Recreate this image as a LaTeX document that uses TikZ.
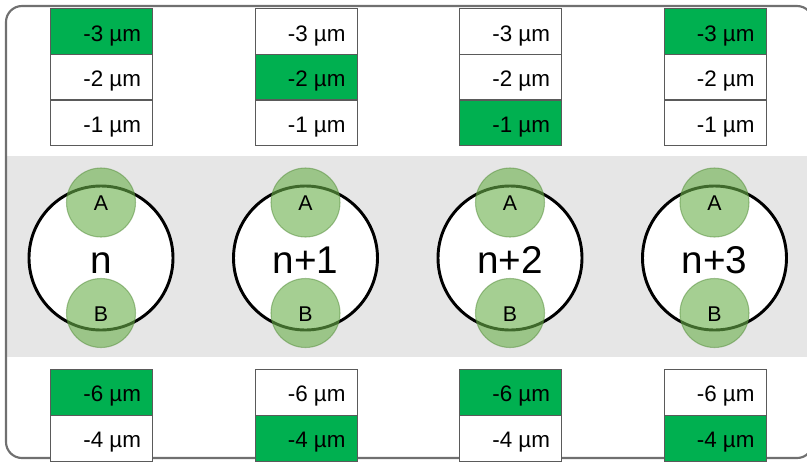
\documentclass[tikz,border=0pt]{standalone}
\usepackage{fontspec}
\setmainfont{Liberation Sans}
\definecolor{frameg}{HTML}{707070}
\definecolor{band}{HTML}{E6E6E6}
\definecolor{cellg}{HTML}{00B050}
\definecolor{cellline}{HTML}{5A5A5A}
\definecolor{dotg}{HTML}{6AB04A}
\begin{document}
\begin{tikzpicture}[x=0.75pt,y=-0.75pt,
  cell/.style={draw=cellline,line width=1pt,minimum width=76.5pt,minimum height=34.25pt,inner sep=0pt,anchor=north west},
  val/.style={anchor=base east,font=\fontsize{16.8}{16.8}\selectfont,inner sep=0pt},
  ring/.style={circle,draw=black,line width=2.2pt,fill=white,minimum size=108pt,inner sep=0pt},
  dot/.style={circle,fill=dotg,fill opacity=0.6,draw=dotg!80!black,draw opacity=0.5,line width=0.8pt,minimum size=51.75pt,inner sep=0pt},
  lbl/.style={anchor=base,font=\fontsize{16}{16}\selectfont,inner sep=0pt},
  big/.style={anchor=base,font=\fontsize{29}{29}\selectfont,inner sep=0pt}]
\useasboundingbox (0,0) rectangle (807,461);
\fill[band] (6,156) rectangle (812,357);
\draw[frameg,line width=1.6pt,rounded corners=12pt] (6,6) rectangle (813,458);
\foreach \i/\cx/\tg/\bg/\lab in {1/101/1/1/n, 2/305.5/2/2/n+1, 3/510/3/1/n+2, 4/714.5/1/2/n+3}{
  % top table
  \foreach \r/\v in {1/-3,2/-2,3/-1}{
    \pgfmathsetmacro\yt{8+(\r-1)*45.67}
    \ifnum\r=\tg\def\fc{cellg}\else\def\fc{white}\fi
    \node[cell,fill=\fc] (c\i\r) at (\cx-51,\yt) {};
    \node[val] (v\i\r) at ([xshift=-9pt,yshift=-24.75pt]c\i\r.north east) {\v\ µm};
  }
  % bottom table
  \foreach \r/\v in {1/-6,2/-4}{
    \pgfmathsetmacro\yt{369+(\r-1)*46}
    \ifnum\r=\bg\def\fc{cellg}\else\def\fc{white}\fi
    \node[cell,fill=\fc,minimum height=34.5pt] (d\i\r) at (\cx-51,\yt) {};
    \node[val] (w\i\r) at ([xshift=-9pt,yshift=-24.5pt]d\i\r.north east) {\v\ µm};
  }
  % circles
  \node[ring] (r\i) at (\cx,258) {};
  \node[big] (t\i) at (\cx,273) {\lab};
  \node[dot] (a\i) at (\cx,202.5) {};
  \node[dot] (b\i) at (\cx,313) {};
  \node[lbl] (la\i) at (\cx,210.5) {A};
  \node[lbl] (lb\i) at (\cx,321) {B};
}
\end{tikzpicture}
\end{document}
